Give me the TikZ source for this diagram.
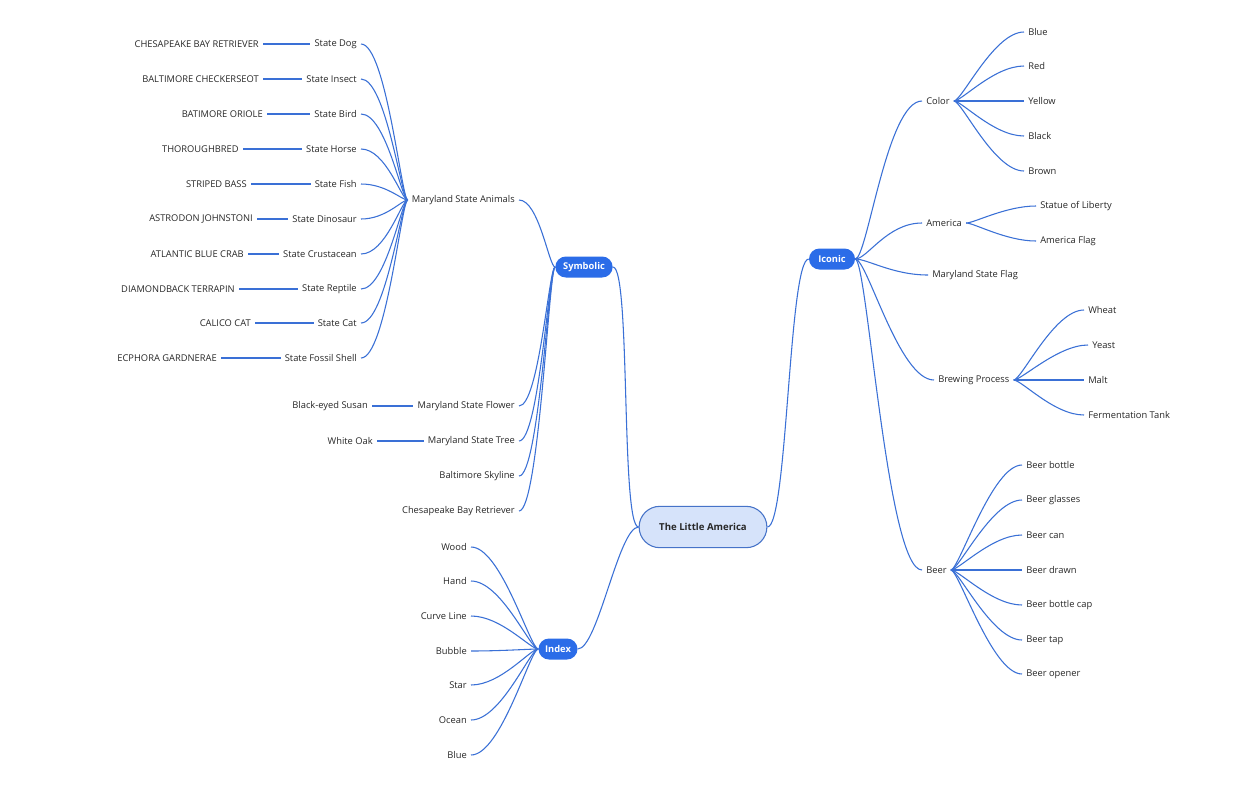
\documentclass[tikz,border=0pt]{standalone}
\usepackage{fontspec}
\setmainfont{Open Sans}
\usetikzlibrary{shapes.misc}
\definecolor{linkblue}{RGB}{58,112,214}
\definecolor{pillblue}{RGB}{43,108,232}
\definecolor{rootfill}{RGB}{214,227,250}
\definecolor{rootline}{RGB}{70,115,200}
\definecolor{textgray}{RGB}{40,40,40}
\tikzset{
	leaf/.style={font=\fontsize{7}{8}\selectfont, text=textgray, inner sep=3pt},
	pill/.style={rounded rectangle, fill=pillblue, text=white, font=\fontsize{7}{8}\selectfont\bfseries, minimum height=15.75pt, inner xsep=3pt},
	rootbox/.style={rounded rectangle, fill=rootfill, draw=rootline, line width=0.8pt, text=textgray, font=\fontsize{7.2}{8}\selectfont\bfseries, minimum width=102.5pt, minimum height=31pt},
	wire/.style={draw=linkblue, line width=0.8pt},
	twig/.style 2 args={to path={.. controls +(#1,0) and +(-#2,0) .. (\tikztotarget)}}
}
\begin{document}
\begin{tikzpicture}[x=0.75pt,y=-0.75pt]
	\fill[white] (0,0) rectangle (1242,804);
	\useasboundingbox (0,0) rectangle (1242,804);
	\node[rootbox] (root) at (703,527) {The Little America};
	\node[pill, minimum width=49pt] (sym) at (584,267) {Symbolic};
	\node[pill, minimum width=40.5pt] (iconic) at (832,259) {Iconic};
	\node[pill, minimum width=35.25pt] (index) at (558,649) {Index};
	
	\node[leaf, anchor=west] (color) at (922,101) {Color};
	\node[leaf, anchor=west] (america) at (922,223) {America};
	\node[leaf, anchor=west] (mdflag) at (928,275) {Maryland State Flag};
	\node[leaf, anchor=west] (brewing) at (934,380) {Brewing Process};
	\node[leaf, anchor=west] (beer) at (922,570) {Beer};
	\node[leaf, anchor=west] (cblue) at (1024,32) {Blue};
	\node[leaf, anchor=west] (cred) at (1024,66) {Red};
	\node[leaf, anchor=west] (cyellow) at (1024,101) {Yellow};
	\node[leaf, anchor=west] (cblack) at (1024,136) {Black};
	\node[leaf, anchor=west] (cbrown) at (1024,171) {Brown};
	\node[leaf, anchor=west] (statue) at (1036,206) {Statue of Liberty};
	\node[leaf, anchor=west] (amflag) at (1036,241) {America Flag};
	\node[leaf, anchor=west] (wheat) at (1084,310) {Wheat};
	\node[leaf, anchor=west] (yeast) at (1088,345) {Yeast};
	\node[leaf, anchor=west] (malt) at (1084,380) {Malt};
	\node[leaf, anchor=west] (tank) at (1084,415) {Fermentation Tank};
	\node[leaf, anchor=west] (bbottle) at (1022,465) {Beer bottle};
	\node[leaf, anchor=west] (bglass) at (1022,500) {Beer glasses};
	\node[leaf, anchor=west] (bcan) at (1022,535) {Beer can};
	\node[leaf, anchor=west] (bdrawn) at (1022,570) {Beer drawn};
	\node[leaf, anchor=west] (bcap) at (1022,605) {Beer bottle cap};
	\node[leaf, anchor=west] (btap) at (1022,640) {Beer tap};
	\node[leaf, anchor=west] (bopen) at (1022,674) {Beer opener};
	
	\node[leaf, anchor=east] (animals) at (519,200) {Maryland State Animals};
	\node[leaf, anchor=east] (flower) at (519,406) {Maryland State Flower};
	\node[leaf, anchor=east] (tree) at (519,441) {Maryland State Tree};
	\node[leaf, anchor=east] (skyline) at (519,476) {Baltimore Skyline};
	\node[leaf, anchor=east] (retriever) at (519,511) {Chesapeake Bay Retriever};
	\node[leaf, anchor=east] (susan) at (372,406) {Black-eyed Susan};
	\node[leaf, anchor=east] (oak) at (377,441) {White Oak};
	
	\node[leaf, anchor=east] (sdog) at (361,44) {State Dog};
	\node[leaf, anchor=east] (sinsect) at (361,79) {State Insect};
	\node[leaf, anchor=east] (sbird) at (361,114) {State Bird};
	\node[leaf, anchor=east] (shorse) at (361,149) {State Horse};
	\node[leaf, anchor=east] (sfish) at (361,184) {State Fish};
	\node[leaf, anchor=east] (sdino) at (361,219) {State Dinosaur};
	\node[leaf, anchor=east] (scrust) at (361,254) {State Crustacean};
	\node[leaf, anchor=east] (sreptile) at (361,289) {State Reptile};
	\node[leaf, anchor=east] (scat) at (361,323) {State Cat};
	\node[leaf, anchor=east] (sshell) at (361,358) {State Fossil Shell};
	\node[leaf, anchor=east] (gdog) at (263,44) {CHESAPEAKE BAY RETRIEVER};
	\node[leaf, anchor=east] (ginsect) at (263,79) {BALTIMORE CHECKERSEOT};
	\node[leaf, anchor=east] (gbird) at (267,114) {BATIMORE ORIOLE};
	\node[leaf, anchor=east] (ghorse) at (243,149) {THOROUGHBRED};
	\node[leaf, anchor=east] (gfish) at (251,184) {STRIPED BASS};
	\node[leaf, anchor=east] (gdino) at (257,219) {ASTRODON JOHNSTONI};
	\node[leaf, anchor=east] (gcrust) at (248,254) {ATLANTIC BLUE CRAB};
	\node[leaf, anchor=east] (greptile) at (239,289) {DIAMONDBACK TERRAPIN};
	\node[leaf, anchor=east] (gcat) at (255,323) {CALICO CAT};
	\node[leaf, anchor=east] (gshell) at (221,358) {ECPHORA GARDNERAE};
	
	\node[leaf, anchor=east] (wood) at (471,547) {Wood};
	\node[leaf, anchor=east] (hand) at (471,581) {Hand};
	\node[leaf, anchor=east] (curve) at (471,616) {Curve Line};
	\node[leaf, anchor=east] (bubble) at (471,651) {Bubble};
	\node[leaf, anchor=east] (star) at (471,685) {Star};
	\node[leaf, anchor=east] (ocean) at (471,720) {Ocean};
	\node[leaf, anchor=east] (iblue) at (471,755) {Blue};
	
	\draw[wire] (sym.east) to[twig={18}{18}] (root.west);
	\draw[wire] (index.east) to[twig={20}{20}] (root.west);
	\draw[wire] (root.east) to[twig={20}{20}] (iconic.west);
	
	\draw[wire] (iconic.east) to[twig={12}{35}] (color.west);
	\draw[wire] (iconic.east) to[twig={12}{35}] (america.west);
	\draw[wire] (iconic.east) to[twig={12}{35}] (mdflag.west);
	\draw[wire] (iconic.east) to[twig={12}{35}] (brewing.west);
	\draw[wire] (iconic.east) to[twig={12}{35}] (beer.west);
	\draw[wire] (color.east) to[twig={8}{30}] (cblue.west);
	\draw[wire] (color.east) to[twig={8}{30}] (cred.west);
	\draw[wire] (color.east) to[twig={8}{30}] (cyellow.west);
	\draw[wire] (color.east) to[twig={8}{30}] (cblack.west);
	\draw[wire] (color.east) to[twig={8}{30}] (cbrown.west);
	\draw[wire] (america.east) to[twig={8}{30}] (statue.west);
	\draw[wire] (america.east) to[twig={8}{30}] (amflag.west);
	\draw[wire] (brewing.east) to[twig={8}{30}] (wheat.west);
	\draw[wire] (brewing.east) to[twig={8}{30}] (yeast.west);
	\draw[wire] (brewing.east) to[twig={8}{30}] (malt.west);
	\draw[wire] (brewing.east) to[twig={8}{30}] (tank.west);
	\draw[wire] (beer.east) to[twig={8}{30}] (bbottle.west);
	\draw[wire] (beer.east) to[twig={8}{30}] (bglass.west);
	\draw[wire] (beer.east) to[twig={8}{30}] (bcan.west);
	\draw[wire] (beer.east) to[twig={8}{30}] (bdrawn.west);
	\draw[wire] (beer.east) to[twig={8}{30}] (bcap.west);
	\draw[wire] (beer.east) to[twig={8}{30}] (btap.west);
	\draw[wire] (beer.east) to[twig={8}{30}] (bopen.west);
	
	\draw[wire] (animals.east) to[twig={20}{6}] (sym.west);
	\draw[wire] (flower.east) to[twig={20}{6}] (sym.west);
	\draw[wire] (tree.east) to[twig={20}{6}] (sym.west);
	\draw[wire] (skyline.east) to[twig={20}{6}] (sym.west);
	\draw[wire] (retriever.east) to[twig={20}{6}] (sym.west);
	\draw[wire] (susan.east) -- (flower.west);
	\draw[wire] (oak.east) -- (tree.west);
	
	\draw[wire] (sdog.east) to[twig={25}{6}] (animals.west);
	\draw[wire] (sinsect.east) to[twig={25}{6}] (animals.west);
	\draw[wire] (sbird.east) to[twig={25}{6}] (animals.west);
	\draw[wire] (shorse.east) to[twig={25}{6}] (animals.west);
	\draw[wire] (sfish.east) to[twig={25}{6}] (animals.west);
	\draw[wire] (sdino.east) to[twig={25}{6}] (animals.west);
	\draw[wire] (scrust.east) to[twig={25}{6}] (animals.west);
	\draw[wire] (sreptile.east) to[twig={25}{6}] (animals.west);
	\draw[wire] (scat.east) to[twig={25}{6}] (animals.west);
	\draw[wire] (sshell.east) to[twig={25}{6}] (animals.west);
	\draw[wire] (gdog.east) -- (sdog.west);
	\draw[wire] (ginsect.east) -- (sinsect.west);
	\draw[wire] (gbird.east) -- (sbird.west);
	\draw[wire] (ghorse.east) -- (shorse.west);
	\draw[wire] (gfish.east) -- (sfish.west);
	\draw[wire] (gdino.east) -- (sdino.west);
	\draw[wire] (gcrust.east) -- (scrust.west);
	\draw[wire] (greptile.east) -- (sreptile.west);
	\draw[wire] (gcat.east) -- (scat.west);
	\draw[wire] (gshell.east) -- (sshell.west);
	
	\draw[wire] (wood.east) to[twig={30}{8}] (index.west);
	\draw[wire] (hand.east) to[twig={30}{8}] (index.west);
	\draw[wire] (curve.east) to[twig={30}{8}] (index.west);
	\draw[wire] (bubble.east) to[twig={30}{8}] (index.west);
	\draw[wire] (star.east) to[twig={30}{8}] (index.west);
	\draw[wire] (ocean.east) to[twig={30}{8}] (index.west);
	\draw[wire] (iblue.east) to[twig={30}{8}] (index.west);
\end{tikzpicture}
\end{document}
